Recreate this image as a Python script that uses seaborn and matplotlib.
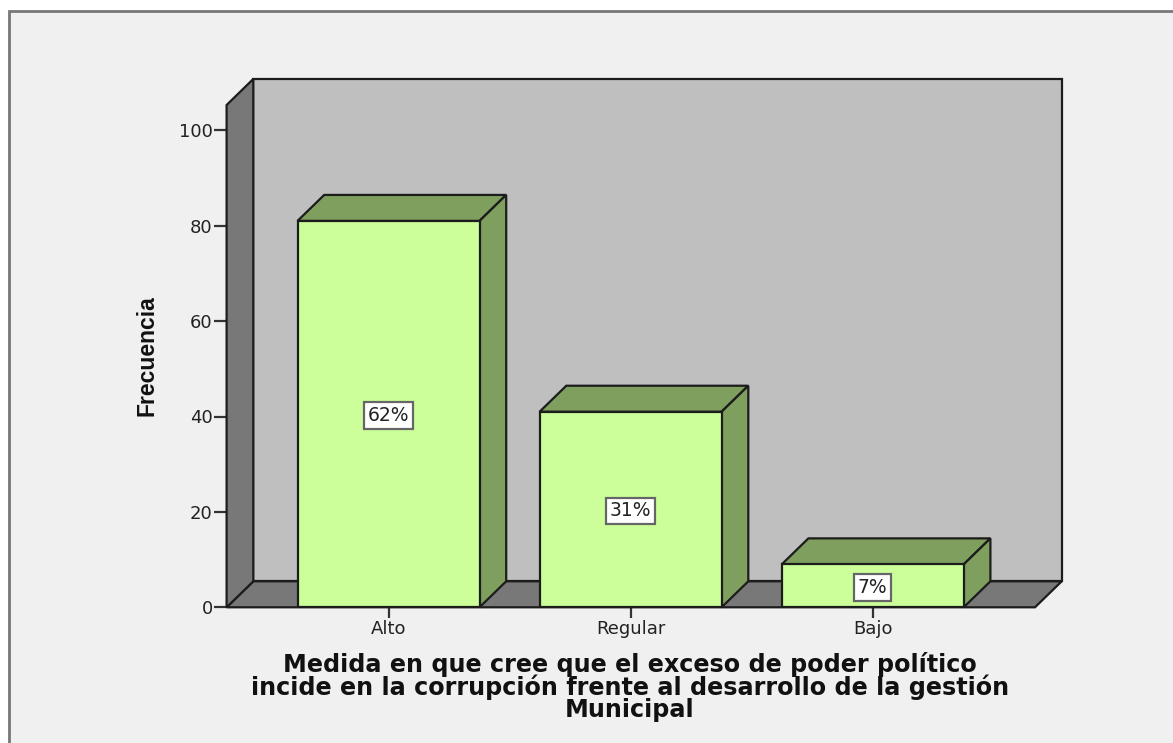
import matplotlib.pyplot as plt
import pandas as pd
import seaborn as sns
from matplotlib.patches import Polygon, Rectangle

categories = ["Alto", "Regular", "Bajo"]
frequencies = [81, 41, 9]
percent_labels = ["62%", "31%", "7%"]
y_ticks = [0, 20, 40, 60, 80, 100]
x_title = (
    "Medida en que cree que el exceso de poder político\n"
    "incide en la corrupción frente al desarrollo de la gestión\n"
    "Municipal"
)
y_title = "Frecuencia"

W, H = 1173, 743
# pixel box of the plotting area, back wall included
LEFT, RIGHT, TOP, BOTTOM = 226.6, 1061.7, 79.0, 607.3
PX_PER_UNIT_Y = 4.77
PX_PER_CAT = 242.1
FIRST_CENTER = 388.5
DEPTH_X = 26.7 / PX_PER_CAT
DEPTH_Y = 26.0 / PX_PER_UNIT_Y

EDGE = "#1c1c1c"
FACE = "#ccff99"
SHADE = "#7f9f5f"
WALL = "#bfbfbf"
DARK_WALL = "#787878"


def face(ax, points, color, zorder):
    ax.add_patch(Polygon(points, closed=True, facecolor=color, edgecolor=EDGE, clip_on=False,
                         linewidth=1.6, joinstyle="miter", zorder=zorder))


sns.set_theme(style="white")
plt.rcParams["font.family"] = ["Liberation Sans", "DejaVu Sans"]

fig = plt.figure(figsize=(W / 100, H / 100), dpi=100, facecolor="white")

# grey panel behind the chart, it runs off the right and bottom edges
fig.add_artist(Rectangle((8.5 / W, -0.02), 1.1, 1.02 - 10.5 / H, transform=fig.transFigure,
                         facecolor="#f0f0f0", edgecolor="#777777", linewidth=2, zorder=-1))

ax = fig.add_axes([LEFT / W, 1 - BOTTOM / H, (RIGHT - LEFT) / W, (BOTTOM - TOP) / H])
ax.patch.set_alpha(0)

df = pd.DataFrame({"categoria": categories, "frecuencia": frequencies})
sns.barplot(data=df, x="categoria", y="frecuencia", order=categories, width=182 / PX_PER_CAT,
            color=FACE, saturation=1, edgecolor=EDGE, linewidth=1.6, zorder=5, ax=ax)

x0 = (LEFT - FIRST_CENTER) / PX_PER_CAT
x1 = (RIGHT - FIRST_CENTER) / PX_PER_CAT
y1 = (BOTTOM - TOP) / PX_PER_UNIT_Y
ax.set_xlim(x0, x1)
ax.set_ylim(0, y1)

bars = list(ax.patches[:len(categories)])

# box walls
front_r = x1 - DEPTH_X
front_t = y1 - DEPTH_Y
face(ax, [(x0 + DEPTH_X, DEPTH_Y), (x1, DEPTH_Y), (x1, y1), (x0 + DEPTH_X, y1)], WALL, 1)
face(ax, [(x0, 0), (front_r, 0), (x1, DEPTH_Y), (x0 + DEPTH_X, DEPTH_Y)], DARK_WALL, 2)
face(ax, [(x0, 0), (x0 + DEPTH_X, DEPTH_Y), (x0 + DEPTH_X, y1), (x0, front_t)], DARK_WALL, 2)

# 3d faces and value boxes of each bar
for bar, label in zip(bars, percent_labels):
    l, r, h = bar.get_x(), bar.get_x() + bar.get_width(), bar.get_height()
    face(ax, [(l, h), (r, h), (r + DEPTH_X, h + DEPTH_Y), (l + DEPTH_X, h + DEPTH_Y)], SHADE, 4)
    face(ax, [(r, 0), (r + DEPTH_X, DEPTH_Y), (r + DEPTH_X, h + DEPTH_Y), (r, h)], SHADE, 4)
    ax.text((l + r) / 2, h / 2 - 0.3, label, ha="center", va="center", fontsize=13.5, color="#222222",
            family="DejaVu Sans", zorder=7,
            bbox=dict(boxstyle="square,pad=0.2", facecolor="white", edgecolor="#666666", linewidth=1.6))

ax.set_yticks(y_ticks)
sns.despine(ax=ax, left=True, bottom=True)
ax.tick_params(axis="both", which="major", width=1.6, color="#333333",
               labelcolor="#222222", left=True, bottom=True)
ax.tick_params(axis="y", length=9.4, labelsize=13, pad=0.5, labelfontfamily="DejaVu Sans")
ax.tick_params(axis="x", length=8, labelsize=13, pad=1.5, labelfontfamily="DejaVu Sans")

ax.set_xlabel(x_title, fontsize=17.2, fontweight="bold", color="#111111", family="DejaVu Sans",
              linespacing=0.88, va="top", ha="center")
ax.xaxis.set_label_coords((630 - LEFT) / (RIGHT - LEFT), (BOTTOM - 652) / (BOTTOM - TOP))
ax.set_ylabel(y_title, fontsize=16.5, fontweight="bold", color="#111111", va="center", ha="center")
ax.yaxis.set_label_coords((147 - LEFT) / (RIGHT - LEFT), (BOTTOM - 356) / (BOTTOM - TOP))

fig.savefig("out.png", dpi=100)
